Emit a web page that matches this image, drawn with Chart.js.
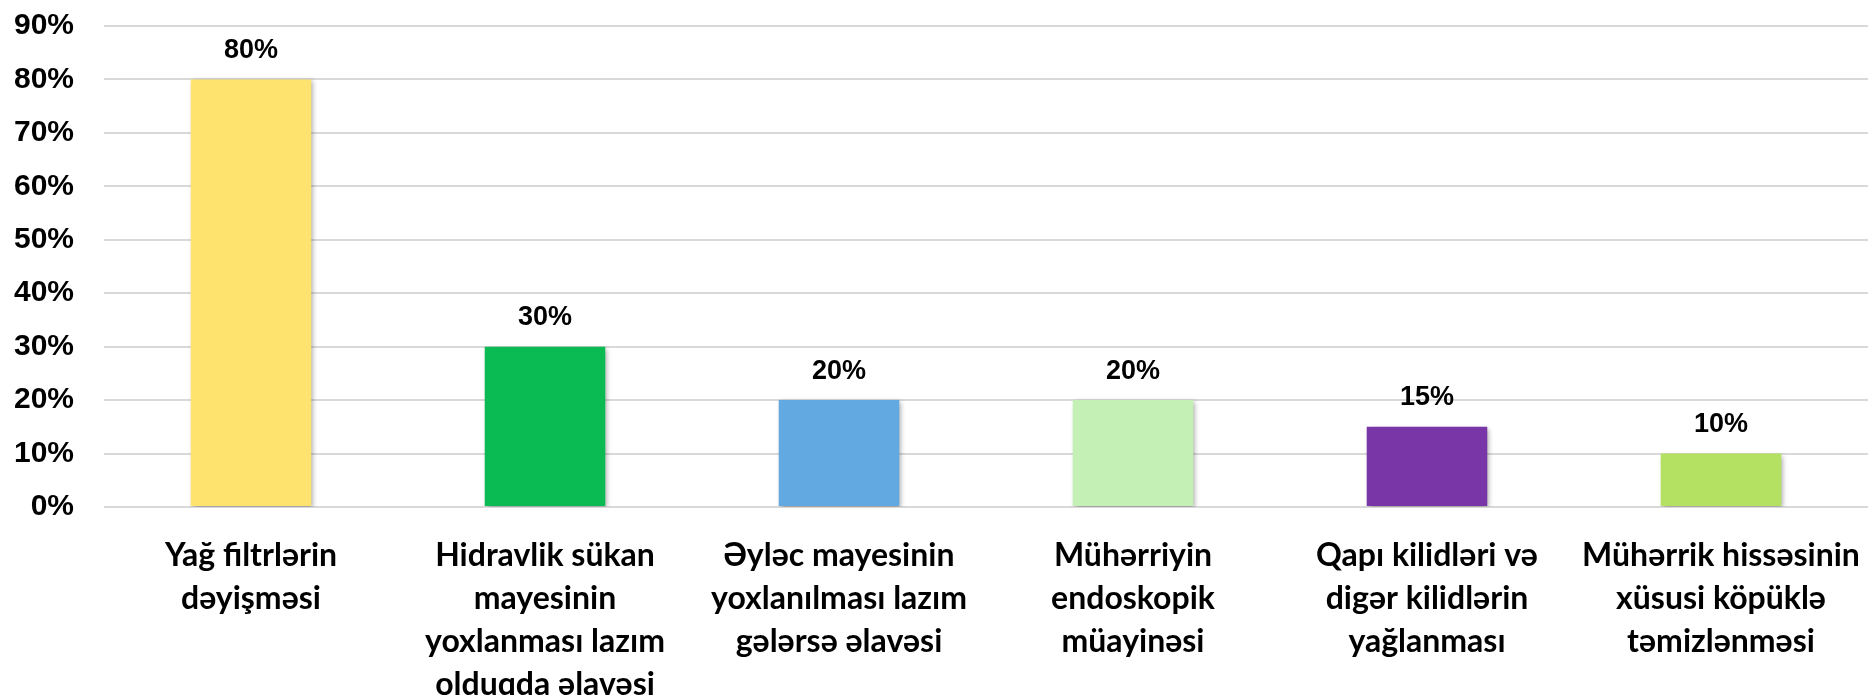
<!DOCTYPE html>
<html>
<head>
<meta charset="utf-8">
<script src="https://cdn.jsdelivr.net/npm/chart.js@4/dist/chart.umd.min.js"></script>
<style>
  html, body { margin: 0; padding: 0; background: #fff; }
  #wrap { width: 1868px; height: 695px; }
</style>
</head>
<body>
<div id="wrap"><canvas id="chart"></canvas></div>
<script>
const categories = [
  ["Yağ filtrlərin", "dəyişməsi"],
  ["Hidravlik sükan", "mayesinin", "yoxlanması lazım", "olduqda əlavəsi"],
  ["Əyləc mayesinin", "yoxlanılması lazım", "gələrsə əlavəsi"],
  ["Mühərriyin", "endoskopik", "müayinəsi"],
  ["Qapı kilidləri və", "digər kilidlərin", "yağlanması"],
  ["Mühərrik hissəsinin", "xüsusi köpüklə", "təmizlənməsi"]
];
const values = [80, 30, 20, 20, 15, 10];
const barColors = ["#FFE36F", "#0ABB53", "#62A9E1", "#C4EFB5", "#7836A6", "#B5E162"];
const yMax = 90;
const yStep = 10;

// value labels above the bars
const valueLabels = {
  id: "valueLabels",
  afterDatasetsDraw(chart) {
    const ctx = chart.ctx;
    const meta = chart.getDatasetMeta(0);
    ctx.save();
    ctx.font = "bold 27px 'Liberation Sans', Arial, sans-serif";
    ctx.fillStyle = "#000";
    ctx.textAlign = "center";
    ctx.textBaseline = "middle";
    meta.data.forEach((bar, i) => {
      ctx.fillText(values[i] + "%", bar.x, bar.y - 29);
    });
    ctx.restore();
  }
};

// soft shadow under the bars
const barShadow = {
  id: "barShadow",
  beforeDatasetsDraw(chart) {
    const ctx = chart.ctx;
    ctx.save();
    ctx.shadowColor = "rgba(0,0,0,0.35)";
    ctx.shadowBlur = 5;
    ctx.shadowOffsetX = 2;
    ctx.shadowOffsetY = 2;
  },
  afterDatasetsDraw(chart) {
    chart.ctx.restore();
  }
};

new Chart(document.getElementById("chart"), {
  type: "bar",
  data: {
    labels: categories,
    datasets: [{
      data: values,
      backgroundColor: barColors,
      borderWidth: 0,
      barPercentage: 0.41,
      categoryPercentage: 1
    }]
  },
  options: {
    responsive: true,
    maintainAspectRatio: false,
    animation: false,
    layout: { padding: { top: 26, right: 0, left: 0, bottom: 0 } },
    plugins: {
      legend: { display: false },
      title: { display: false },
      tooltip: { enabled: false }
    },
    scales: {
      x: {
        // invisible tick marks give the label gap without extra side padding
        grid: { display: false, drawTicks: true, tickLength: 27, tickColor: "rgba(0,0,0,0)" },
        border: { display: false },
        ticks: {
          color: "#000",
          padding: 0,
          maxRotation: 0,
          autoSkip: false,
          font: { family: "Lato, 'Open Sans', sans-serif", weight: "bold", size: 32, lineHeight: "43px" }
        },
        afterFit(scale) { scale.height = 188; }
      },
      y: {
        min: 0,
        max: yMax,
        grid: { color: "#D9D9D9", lineWidth: 2, drawTicks: true, tickLength: 30, tickColor: "rgba(0,0,0,0)" },
        border: { display: false },
        ticks: {
          stepSize: yStep,
          color: "#000",
          padding: 0,
          font: { family: "'Liberation Sans', Arial, sans-serif", weight: "bold", size: 30 },
          callback: (v) => v + "%"
        },
        afterFit(scale) { scale.width = 104; }
      }
    }
  },
  plugins: [barShadow, valueLabels]
});
</script>
</body>
</html>
